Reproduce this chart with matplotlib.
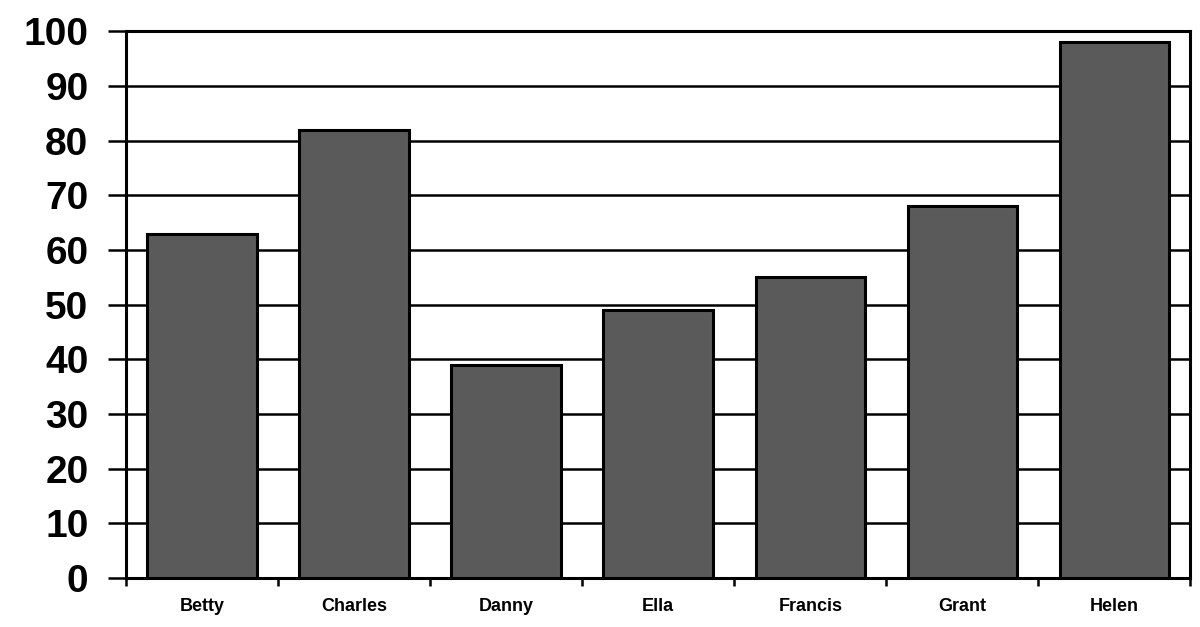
import numpy as np
import matplotlib
matplotlib.use("Agg")
import matplotlib.pyplot as plt

# values
names = ["Betty", "Charles", "Danny", "Ella", "Francis", "Grant", "Helen"]
scores = [63, 82, 39, 49, 55, 68, 98]
y_ticks = [0, 10, 20, 30, 40, 50, 60, 70, 80, 90, 100]

plt.rcParams['font.family'] = ['Liberation Sans', 'DejaVu Sans']

fig = plt.figure(figsize=(12, 6.27), dpi=100)
ax = fig.add_axes([0.105, 0.078, 0.887, 0.872])

x = np.arange(len(names))
ax.bar(x, scores, width=0.72, color="#5a5a5a", edgecolor="black", linewidth=2.2, zorder=3)

# horizontal grid lines, drawn black like the original
ax.set_yticks(y_ticks)
ax.yaxis.grid(True, color="black", linewidth=1.8, zorder=0)
ax.set_ylim(0, 100)
ax.set_xlim(-0.5, len(names) - 0.5)

ax.set_yticklabels([str(t) for t in y_ticks], fontsize=28, fontweight="bold")
ax.tick_params(axis="y", length=13, width=1.8, pad=14)

# category labels under bars, ticks between categories
ax.set_xticks(x)
ax.set_xticklabels(names, fontsize=13, fontweight="bold")
ax.set_xticks(np.arange(len(names) + 1) - 0.5, minor=True)
ax.tick_params(axis="x", which="major", length=0, pad=14)
ax.tick_params(axis="x", which="minor", length=6, width=1.8)

for s in ax.spines.values():
    s.set_linewidth(2.2)
    s.set_color("black")

fig.savefig("out.png", dpi=100)
